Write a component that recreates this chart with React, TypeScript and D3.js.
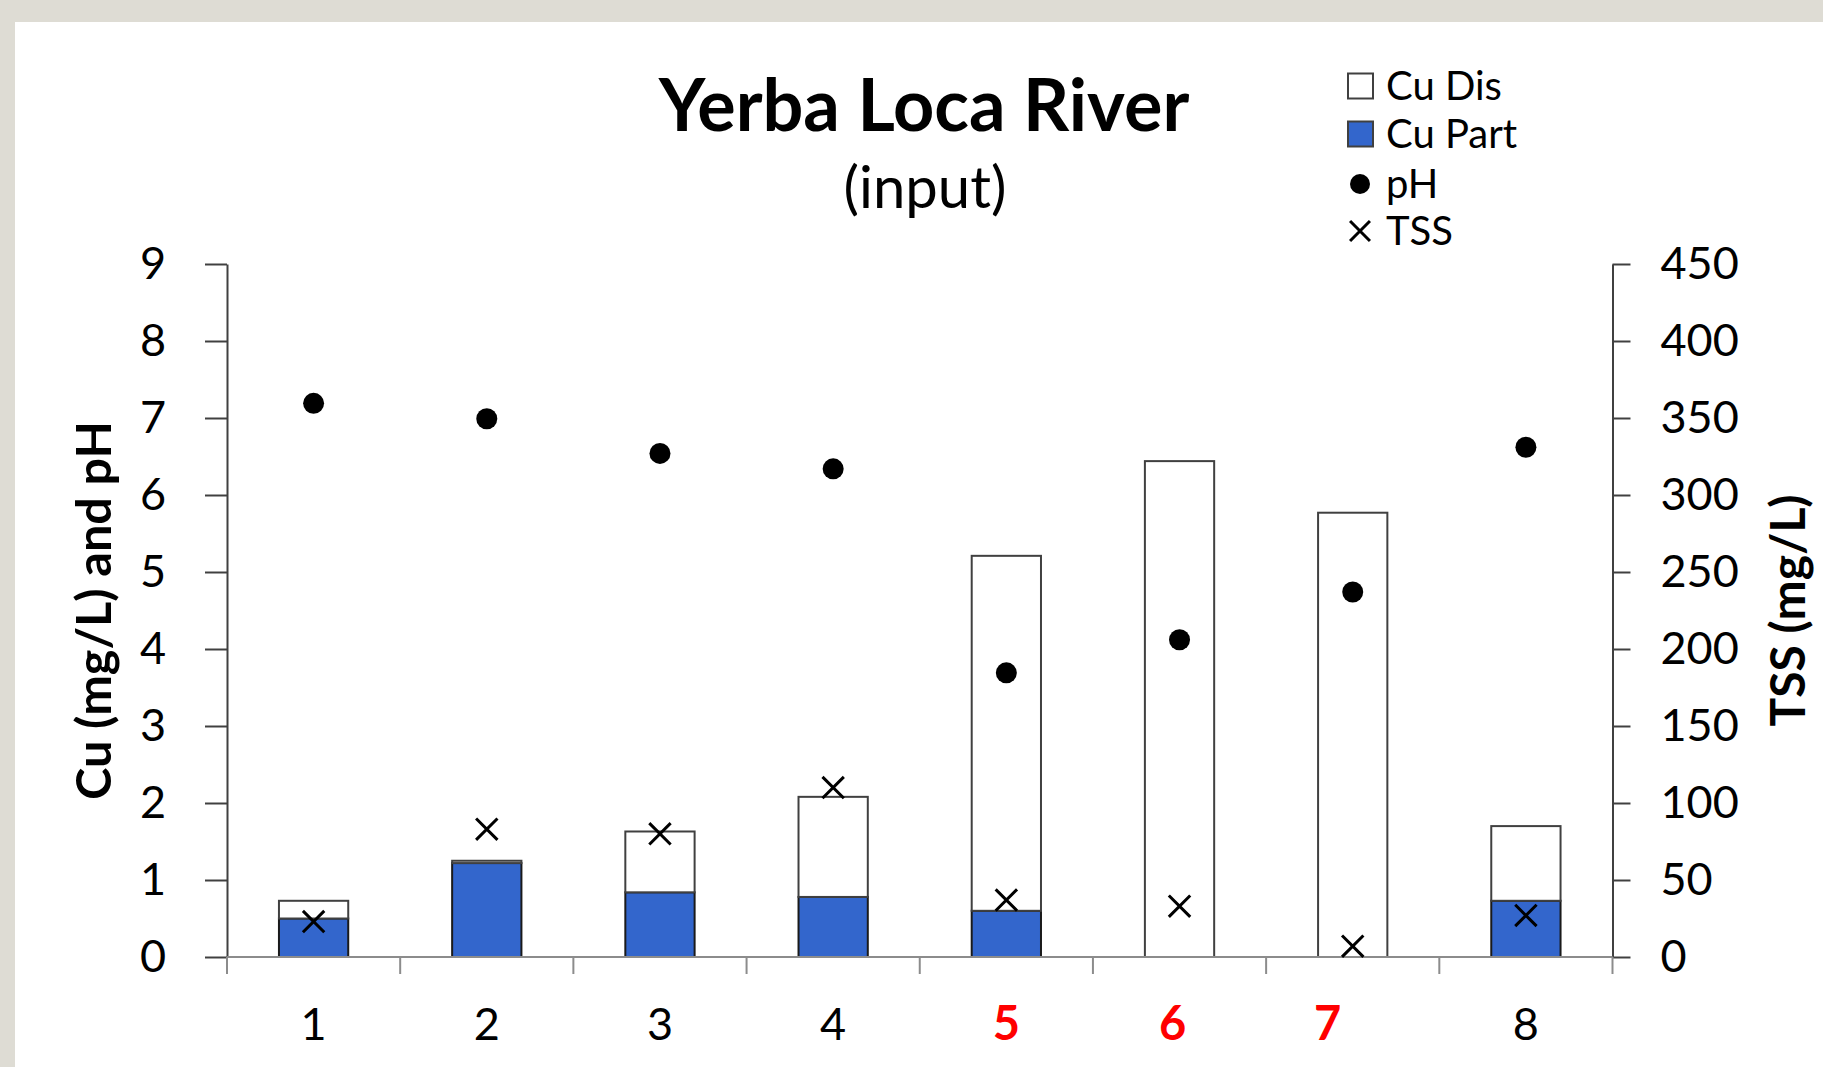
import React, { useEffect, useRef } from 'react';
import * as d3 from 'd3';

// sites along the river
const categories = ['1', '2', '3', '4', '5', '6', '7', '8'];
const highlighted = ['5', '6', '7'];
// copper (mg/L)
const cuPart = [0.5, 1.22, 0.84, 0.78, 0.6, 0, 0, 0.73];
const cuDis = [0.23, 0.03, 0.79, 1.3, 4.61, 6.44, 5.77, 0.97];
// pH and total suspended solids (mg/L)
const pH = [7.19, 6.99, 6.54, 6.34, 3.69, 4.12, 4.74, 6.62];
const tss = [23, 83, 80, 110, 37, 33, 7, 27];
const leftTicks = [0, 1, 2, 3, 4, 5, 6, 7, 8, 9];
const rightTicks = [0, 50, 100, 150, 200, 250, 300, 350, 400, 450];

const W = 1823;
const H = 1067;
const FONT = 'Lato, "Open Sans", sans-serif';
const BLUE = '#3366cc';
const DARK = '#404040';
// the labels of sites 6 and 7 sit a little left of their bars in the original
const labelNudge: Record<string, number> = { '6': -7, '7': -25 };

const App = () => {
  const ref = useRef<SVGSVGElement | null>(null);

  useEffect(() => {
    const svg = d3.select(ref.current);
    svg.selectAll('*').remove();

    const margin = { left: 227, right: W - 1612.5, top: 264, bottom: H - 957 };
    const x0 = margin.left;
    const x1 = W - margin.right;
    const yTop = margin.top;
    const yBot = H - margin.bottom;

    // background photo edge + white panel
    svg.append('rect').attr('width', W).attr('height', H).attr('fill', '#dedcd4');
    svg.append('rect').attr('x', 15).attr('y', 22).attr('width', W - 15).attr('height', H - 22).attr('fill', '#fff');

    const x = d3.scaleBand().domain(categories).range([x0, x1]).paddingInner(0.6).paddingOuter(0.3);
    const yL = d3.scaleLinear().domain([0, 9]).range([yBot, yTop]);
    const yR = d3.scaleLinear().domain([0, 450]).range([yBot, yTop]);

    const rows = categories.map((c, i) => ({ cat: c, part: cuPart[i], dis: cuDis[i] }));
    const stacked = d3.stack<any>().keys(['part', 'dis'])(rows);

    // bars
    const fills: Record<string, string> = { part: BLUE, dis: '#ffffff' };
    stacked.forEach((layer) => {
      svg
        .append('g')
        .selectAll('rect')
        .data(layer.filter((d) => d[1] - d[0] > 0))
        .enter()
        .append('rect')
        .attr('x', (d: any) => x(d.data.cat)!)
        .attr('y', (d) => yL(d[1]))
        .attr('width', x.bandwidth())
        .attr('height', (d) => yL(d[0]) - yL(d[1]))
        .attr('fill', fills[layer.key])
        .attr('stroke', layer.key === 'part' ? '#1a1a1a' : DARK)
        .attr('stroke-width', 2);
    });

    // left axis
    const axL = svg
      .append('g')
      .attr('transform', `translate(${x0},0)`)
      .call(d3.axisLeft(yL).tickValues(leftTicks).tickSize(22).tickSizeOuter(0).tickPadding(39).tickFormat(d3.format('d')));
    axL.select('.domain').attr('stroke', DARK).attr('stroke-width', 2);
    axL.selectAll('.tick line').attr('stroke', DARK).attr('stroke-width', 2);
    axL.selectAll('.tick text').attr('font-family', FONT).attr('font-size', 45).attr('fill', '#000');

    // right axis
    const axR = svg
      .append('g')
      .attr('transform', `translate(${x1},0)`)
      .call(d3.axisRight(yR).tickValues(rightTicks).tickSize(18).tickSizeOuter(0).tickPadding(30).tickFormat(d3.format('d')));
    axR.select('.domain').attr('stroke', DARK).attr('stroke-width', 2);
    axR.selectAll('.tick line').attr('stroke', DARK).attr('stroke-width', 2);
    axR.selectAll('.tick text').attr('font-family', FONT).attr('font-size', 45).attr('fill', '#000');

    // category axis
    const xa = svg.append('g');
    xa.append('line').attr('x1', x0).attr('x2', x1).attr('y1', yBot).attr('y2', yBot).attr('stroke', '#8c8c8c').attr('stroke-width', 2);
    const bounds = d3.range(categories.length + 1).map((i) => x0 + i * x.step());
    xa.selectAll('line.b')
      .data(bounds)
      .enter()
      .append('line')
      .attr('class', 'b')
      .attr('x1', (d) => d)
      .attr('x2', (d) => d)
      .attr('y1', yBot)
      .attr('y2', yBot + 17)
      .attr('stroke', '#8c8c8c')
      .attr('stroke-width', 2);
    xa.selectAll('text')
      .data(categories)
      .enter()
      .append('text')
      .attr('x', (d) => x(d)! + x.bandwidth() / 2 + (labelNudge[d] || 0))
      .attr('y', 1040)
      .attr('text-anchor', 'middle')
      .attr('font-family', FONT)
      .attr('font-size', (d) => (highlighted.includes(d) ? 47 : 45))
      .attr('font-weight', (d) => (highlighted.includes(d) ? 700 : 400))
      .attr('fill', (d) => (highlighted.includes(d) ? '#ff0000' : '#000'))
      .text((d) => d);

    // pH dots
    svg
      .append('g')
      .selectAll('circle')
      .data(pH)
      .enter()
      .append('circle')
      .attr('cx', (_, i) => x(categories[i])! + x.bandwidth() / 2)
      .attr('cy', (d) => yL(d))
      .attr('r', 10.5)
      .attr('fill', '#000');

    // TSS crosses
    const cross = d3.symbol(d3.symbolX, 300);
    svg
      .append('g')
      .selectAll('path')
      .data(tss)
      .enter()
      .append('path')
      .attr('transform', (d, i) => `translate(${x(categories[i])! + x.bandwidth() / 2},${yR(d)})`)
      .attr('d', cross() as string)
      .attr('fill', 'none')
      .attr('stroke', '#000')
      .attr('stroke-width', 3);

    // titles
    svg.append('text').attr('x', 924).attr('y', 131).attr('text-anchor', 'middle')
      .attr('font-family', FONT).attr('font-weight', 700).attr('font-size', 72).text('Yerba Loca River');
    svg.append('text').attr('x', 925).attr('y', 208).attr('text-anchor', 'middle')
      .attr('font-family', FONT).attr('font-size', 58).text('(input)');
    svg.append('text').attr('transform', `translate(111,${(yTop + yBot) / 2}) rotate(-90)`).attr('text-anchor', 'middle')
      .attr('font-family', FONT).attr('font-weight', 700).attr('font-size', 48.5).text('Cu (mg/L) and pH');
    svg.append('text').attr('transform', `translate(1805,${(yTop + yBot) / 2}) rotate(-90)`).attr('text-anchor', 'middle')
      .attr('font-family', FONT).attr('font-weight', 700).attr('font-size', 48).text('TSS (mg/L)');

    // legend
    const lg = svg.append('g').attr('font-family', FONT).attr('font-size', 40);
    const items = [
      { label: 'Cu Dis', kind: 'dis', cy: 86 },
      { label: 'Cu Part', kind: 'part', cy: 134 },
      { label: 'pH', kind: 'ph', cy: 184 },
      { label: 'TSS', kind: 'tss', cy: 231 },
    ];
    items.forEach((it) => {
      if (it.kind === 'dis' || it.kind === 'part') {
        lg.append('rect').attr('x', 1348).attr('y', it.cy - 12.5).attr('width', 25).attr('height', 25)
          .attr('fill', it.kind === 'part' ? BLUE : '#fff').attr('stroke', DARK).attr('stroke-width', 2);
      } else if (it.kind === 'ph') {
        lg.append('circle').attr('cx', 1360).attr('cy', it.cy).attr('r', 10).attr('fill', '#000');
      } else {
        lg.append('path').attr('transform', `translate(1360,${it.cy})`).attr('d', d3.symbol(d3.symbolX, 260)() as string)
          .attr('fill', 'none').attr('stroke', '#000').attr('stroke-width', 3);
      }
      lg.append('text').attr('x', 1386).attr('y', it.cy + 14).text(it.label);
    });
  }, []);

  return <svg ref={ref} width={W} height={H} style={{ position: 'absolute', left: 0, top: 0 }} />;
};

export default App;
